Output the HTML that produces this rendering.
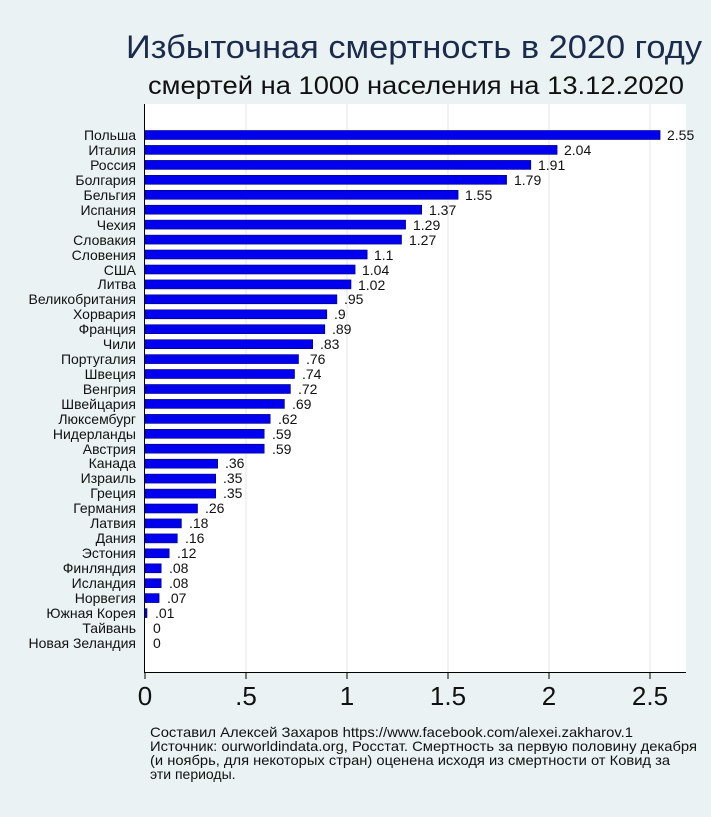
<!DOCTYPE html>
<html><head><meta charset="utf-8"><style>
body{margin:0;background:#eaf2f3;}
</style></head><body>
<svg width="711" height="812" xmlns="http://www.w3.org/2000/svg" font-family="Liberation Sans, sans-serif">
<rect width="711" height="812" fill="#eaf2f3"/>
<text x="126" y="58" font-size="32" fill="#1a2b4c" textLength="576" lengthAdjust="spacingAndGlyphs">Избыточная смертность в 2020 году</text>
<text x="148" y="94" font-size="25" fill="#111" textLength="536" lengthAdjust="spacingAndGlyphs">смертей на 1000 населения на 13.12.2020</text>
<rect x="144" y="104" width="542" height="568" fill="#fff"/>
<g stroke="#e6e6e6" stroke-width="1">
<line x1="246" y1="104" x2="246" y2="672"/><line x1="347" y1="104" x2="347" y2="672"/><line x1="448" y1="104" x2="448" y2="672"/><line x1="549" y1="104" x2="549" y2="672"/><line x1="650" y1="104" x2="650" y2="672"/>
</g>
<g fill="#0000ee" stroke="#000080" stroke-width="0.6">
<rect x="145" y="130.5" width="515.1" height="9"/>
<rect x="145" y="145.4" width="412.1" height="9"/>
<rect x="145" y="160.4" width="385.8" height="9"/>
<rect x="145" y="175.3" width="361.6" height="9"/>
<rect x="145" y="190.3" width="313.1" height="9"/>
<rect x="145" y="205.2" width="276.7" height="9"/>
<rect x="145" y="220.1" width="260.6" height="9"/>
<rect x="145" y="235.1" width="256.5" height="9"/>
<rect x="145" y="250.0" width="222.2" height="9"/>
<rect x="145" y="265.0" width="210.1" height="9"/>
<rect x="145" y="279.9" width="206.0" height="9"/>
<rect x="145" y="294.8" width="191.9" height="9"/>
<rect x="145" y="309.8" width="181.8" height="9"/>
<rect x="145" y="324.7" width="179.8" height="9"/>
<rect x="145" y="339.7" width="167.7" height="9"/>
<rect x="145" y="354.6" width="153.5" height="9"/>
<rect x="145" y="369.5" width="149.5" height="9"/>
<rect x="145" y="384.5" width="145.4" height="9"/>
<rect x="145" y="399.4" width="139.4" height="9"/>
<rect x="145" y="414.4" width="125.2" height="9"/>
<rect x="145" y="429.3" width="119.2" height="9"/>
<rect x="145" y="444.2" width="119.2" height="9"/>
<rect x="145" y="459.2" width="72.7" height="9"/>
<rect x="145" y="474.1" width="70.7" height="9"/>
<rect x="145" y="489.1" width="70.7" height="9"/>
<rect x="145" y="504.0" width="52.5" height="9"/>
<rect x="145" y="518.9" width="36.4" height="9"/>
<rect x="145" y="533.9" width="32.3" height="9"/>
<rect x="145" y="548.8" width="24.2" height="9"/>
<rect x="145" y="563.8" width="16.2" height="9"/>
<rect x="145" y="578.7" width="16.2" height="9"/>
<rect x="145" y="593.6" width="14.1" height="9"/>
<rect x="145" y="608.6" width="2.0" height="9"/>
</g>
<g font-size="14" fill="#111" text-anchor="end">
<text x="136" y="140">Польша</text><text x="136" y="155">Италия</text><text x="136" y="170">Россия</text><text x="136" y="185">Болгария</text><text x="136" y="200">Бельгия</text><text x="136" y="215">Испания</text><text x="136" y="230">Чехия</text><text x="136" y="245">Словакия</text><text x="136" y="260">Словения</text><text x="136" y="275">США</text><text x="136" y="289">Литва</text><text x="136" y="304">Великобритания</text><text x="136" y="319">Хорвария</text><text x="136" y="334">Франция</text><text x="136" y="349">Чили</text><text x="136" y="364">Португалия</text><text x="136" y="379">Швеция</text><text x="136" y="394">Венгрия</text><text x="136" y="409">Швейцария</text><text x="136" y="424">Люксембург</text><text x="136" y="439">Нидерланды</text><text x="136" y="454">Австрия</text><text x="136" y="468">Канада</text><text x="136" y="483">Израиль</text><text x="136" y="498">Греция</text><text x="136" y="513">Германия</text><text x="136" y="528">Латвия</text><text x="136" y="543">Дания</text><text x="136" y="558">Эстония</text><text x="136" y="573">Финляндия</text><text x="136" y="588">Исландия</text><text x="136" y="603">Норвегия</text><text x="136" y="618">Южная Корея</text><text x="136" y="633">Тайвань</text><text x="136" y="648">Новая Зеландия</text>
</g>
<g font-size="14" fill="#111">
<text x="667" y="140">2.55</text><text x="564" y="155">2.04</text><text x="538" y="170">1.91</text><text x="514" y="185">1.79</text><text x="465" y="200">1.55</text><text x="429" y="215">1.37</text><text x="413" y="230">1.29</text><text x="409" y="245">1.27</text><text x="374" y="260">1.1</text><text x="362" y="275">1.04</text><text x="358" y="290">1.02</text><text x="344" y="304">.95</text><text x="334" y="319">.9</text><text x="332" y="334">.89</text><text x="320" y="349">.83</text><text x="306" y="364">.76</text><text x="302" y="379">.74</text><text x="298" y="394">.72</text><text x="292" y="409">.69</text><text x="278" y="424">.62</text><text x="272" y="439">.59</text><text x="272" y="454">.59</text><text x="225" y="468">.36</text><text x="223" y="483">.35</text><text x="223" y="498">.35</text><text x="205" y="513">.26</text><text x="189" y="528">.18</text><text x="185" y="543">.16</text><text x="177" y="558">.12</text><text x="169" y="573">.08</text><text x="169" y="588">.08</text><text x="167" y="603">.07</text><text x="155" y="618">.01</text><text x="153" y="633">0</text><text x="153" y="648">0</text>
</g>
<line x1="144.5" y1="104" x2="144.5" y2="672" stroke="#000"/>
<line x1="144" y1="672.5" x2="686" y2="672.5" stroke="#000"/>
<g stroke="#000"><line x1="145" y1="672" x2="145" y2="679"/><line x1="246" y1="672" x2="246" y2="679"/><line x1="347" y1="672" x2="347" y2="679"/><line x1="448" y1="672" x2="448" y2="679"/><line x1="549" y1="672" x2="549" y2="679"/><line x1="650" y1="672" x2="650" y2="679"/></g>
<g font-size="26" fill="#111" text-anchor="middle">
<text x="145" y="705">0</text><text x="246" y="705">.5</text><text x="347" y="705">1</text><text x="448" y="705">1.5</text><text x="549" y="705">2</text><text x="650" y="705">2.5</text>
</g>
<g font-size="14" fill="#111">
<text x="150" y="737" textLength="483" lengthAdjust="spacingAndGlyphs">Составил Алексей Захаров https://www.facebook.com/alexei.zakharov.1</text>
<text x="150" y="751" textLength="547" lengthAdjust="spacingAndGlyphs">Источник: ourworldindata.org, Росстат. Смертность за первую половину декабря</text>
<text x="150" y="765" textLength="520" lengthAdjust="spacingAndGlyphs">(и ноябрь, для некоторых стран) оценена исходя из смертности от Ковид за</text>
<text x="150" y="779">эти периоды.</text>
</g>
</svg>
</body></html>
